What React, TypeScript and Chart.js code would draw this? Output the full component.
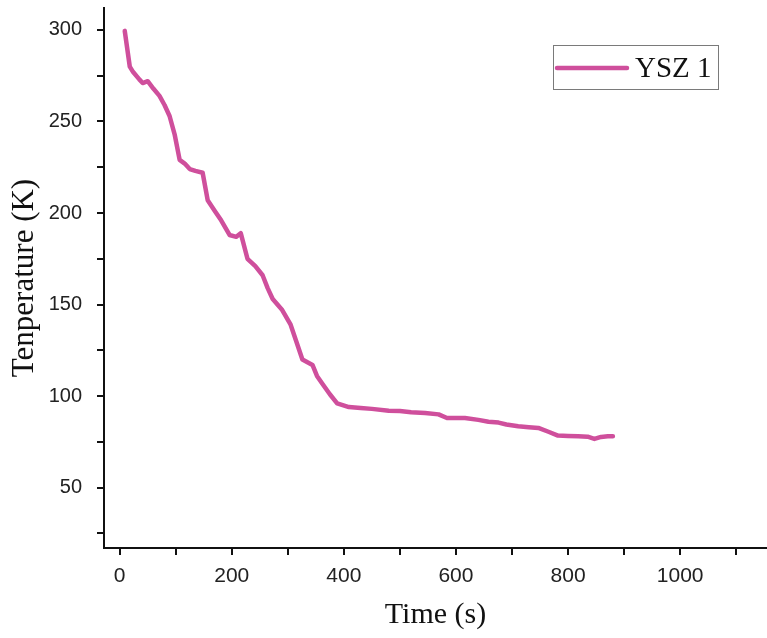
import React, { useEffect, useRef } from "react";
import { Chart, registerables } from "chart.js";

Chart.register(...registerables);

const timeValues = [
  9, 18, 24, 35, 41, 50, 60, 71, 80, 89, 98, 107, 116, 125, 135, 148, 157, 170, 181, 196,
  208, 216, 228, 242, 255, 264, 273, 290, 305, 315, 326, 344, 352, 361, 375, 388, 409, 430,
  450, 480, 500, 520, 545, 569, 584, 600, 616, 640, 658, 676, 690, 711, 730, 747, 765, 782,
  800, 818, 835, 847, 859, 871, 880,
];
const tempValues = [
  299.5, 280, 277, 273, 271, 272, 268, 264, 259, 253, 243, 229, 227, 224, 223, 222, 207, 201, 196, 188,
  187, 189, 175, 171, 166, 159, 153, 147, 139, 130, 120, 117, 111, 107, 101, 96, 94, 93.5,
  93, 92, 91.8, 91.2, 90.8, 90, 88, 88, 88, 87, 86, 85.5, 84.5, 83.5, 83, 82.6, 80.5, 78.4,
  78.2, 78, 77.8, 76.6, 77.7, 78, 78,
];
const xTickValues = [0, 100, 200, 300, 400, 500, 600, 700, 800, 900, 1000, 1100];
const yTickValues = [25, 50, 75, 100, 125, 150, 175, 200, 225, 250, 275, 300];
const seriesLabel = "YSZ 1";
const xTitle = "Time (s)";
const yTitle = "Tenperature (K)";

const LINE_COLOR = "#cf4f9c";

const legendPlugin = {
  id: "boxLegend",
  afterDraw(chart: any) {
    const ctx = chart.ctx;
    ctx.save();
    ctx.strokeStyle = "#7a7a7a";
    ctx.lineWidth = 1;
    ctx.strokeRect(553.5, 45.5, 165, 44);
    ctx.strokeStyle = LINE_COLOR;
    ctx.lineWidth = 4.5;
    ctx.lineCap = "round";
    ctx.beginPath();
    ctx.moveTo(557, 68);
    ctx.lineTo(627, 68);
    ctx.stroke();
    ctx.fillStyle = "#111";
    ctx.font = '29px "Liberation Serif", "Times New Roman", serif';
    ctx.textBaseline = "middle";
    ctx.fillText(seriesLabel, 635, 69);
    ctx.restore();
  },
};

export default function App() {
  const ref = useRef<HTMLCanvasElement>(null);
  useEffect(() => {
    if (!ref.current) return;
    const xTickFont = { family: '"Liberation Sans", Arial, sans-serif', size: 21 };
    const yTickFont = { family: '"Liberation Sans", Arial, sans-serif', size: 20 };
    const titleFont = { family: '"Liberation Serif", "Times New Roman", serif', size: 30 };
    const yTitleFont = { family: '"Liberation Serif", "Times New Roman", serif', size: 31 };
    const chart = new Chart(ref.current, {
      type: "line",
      data: {
        datasets: [
          {
            label: seriesLabel,
            data: timeValues.map((t, i) => ({ x: t, y: tempValues[i] })),
            borderColor: LINE_COLOR,
            borderWidth: 4.5,
            pointRadius: 0,
            tension: 0,
            fill: false,
            borderJoinStyle: "round",
            borderCapStyle: "round",
          },
        ],
      },
      options: {
        responsive: false,
        animation: false,
        devicePixelRatio: 1,
        layout: { padding: { top: 8, left: 0, right: 0, bottom: 0 } },
        plugins: { legend: { display: false }, tooltip: { enabled: false } },
        scales: {
          x: {
            type: "linear",
            min: -28,
            max: 1155,
            afterBuildTicks: (s: any) => {
              s.ticks = xTickValues.map((v) => ({ value: v }));
            },
            afterFit: (s: any) => {
              s.height = 90;
              s.paddingLeft = 0;
              s.paddingRight = 0;
            },
            grid: { drawOnChartArea: false, drawTicks: true, tickLength: 7, color: "#111", lineWidth: 2 },
            border: { display: true, color: "#111", width: 2 },
            ticks: {
              autoSkip: false,
              maxRotation: 0,
              padding: 9,
              color: "#222",
              font: xTickFont,
              callback: (v: any) => (Number(v) % 200 === 0 ? String(v) : ""),
            },
            title: { display: true, text: xTitle, color: "#111", font: titleFont, padding: { top: 0, bottom: 5 } },
          },
          y: {
            type: "linear",
            min: 17,
            max: 312,
            afterBuildTicks: (s: any) => {
              s.ticks = yTickValues.map((v) => ({ value: v }));
            },
            afterFit: (s: any) => {
              s.width = 104;
              s.paddingTop = 0;
              s.paddingBottom = 0;
            },
            grid: { drawOnChartArea: false, drawTicks: true, tickLength: 7, color: "#111", lineWidth: 2 },
            border: { display: true, color: "#111", width: 2 },
            ticks: {
              autoSkip: false,
              padding: 15,
              color: "#222",
              font: yTickFont,
              callback: (v: any) => (Number(v) % 50 === 0 ? String(v) : ""),
            },
            title: { display: true, text: yTitle, color: "#111", font: yTitleFont, padding: { top: 6, bottom: 0 } },
          },
        },
      },
      plugins: [legendPlugin],
    });
    return () => chart.destroy();
  }, []);
  return (
    <div style={{ position: "absolute", left: 0, top: 0, width: 767, height: 638, background: "#fff" }}>
      <canvas ref={ref} width={767} height={638} style={{ display: "block" }} />
    </div>
  );
}
